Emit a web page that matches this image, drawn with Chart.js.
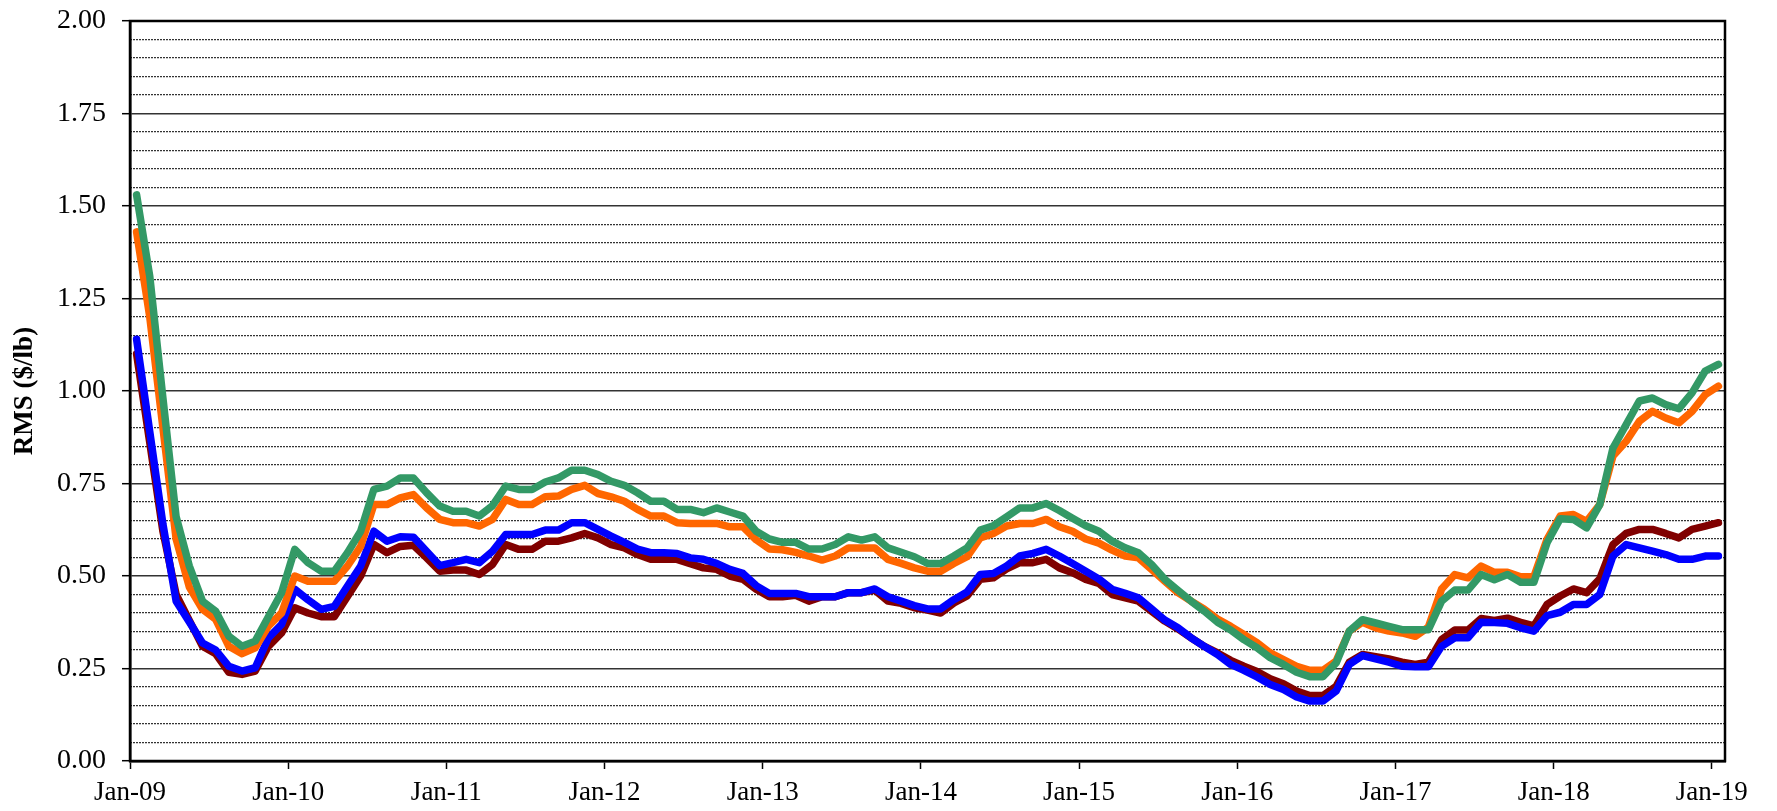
<!DOCTYPE html>
<html>
<head>
<meta charset="utf-8">
<script src="https://cdn.jsdelivr.net/npm/chart.js@4.4.1/dist/chart.umd.min.js"></script>
<style>
  html, body { margin: 0; padding: 0; background: #ffffff; }
  #wrap { width: 1777px; height: 811px; position: relative; }
</style>
</head>
<body>
<div id="wrap"><canvas id="c"></canvas></div>
<script>
// ---- Data (monthly, Jan-09 .. Jan-19) ----
const months = [];
(function () {
  const mn = ['Jan','Feb','Mar','Apr','May','Jun','Jul','Aug','Sep','Oct','Nov','Dec'];
  for (let y = 9; y <= 19; y++) {
    for (let m = 0; m < 12; m++) {
      if (y === 19 && m > 0) break;
      months.push(mn[m] + '-' + String(y).padStart(2, '0'));
    }
  }
})();

const tickLabels = ['Jan-09','Jan-10','Jan-11','Jan-12','Jan-13','Jan-14','Jan-15','Jan-16','Jan-17','Jan-18','Jan-19'];

const maroonSeries = [
  1.10,0.86,0.62,0.45,0.38,0.31,0.29,0.24,0.234,0.243,0.31,0.346,
  0.414,0.40,0.39,0.39,0.445,0.50,0.585,0.563,0.58,0.583,0.549,0.513,
  0.516,0.516,0.504,0.531,0.585,0.572,0.572,0.594,0.594,0.603,0.615,0.603,
  0.585,0.576,0.558,0.545,0.545,0.545,0.533,0.522,0.518,0.50,0.491,0.464,
  0.444,0.444,0.448,0.432,0.444,0.444,0.455,0.455,0.462,0.432,0.426,0.414,
  0.408,0.40,0.427,0.446,0.491,0.495,0.519,0.536,0.536,0.545,0.522,0.509,
  0.491,0.48,0.45,0.441,0.432,0.405,0.378,0.357,0.333,0.31,0.292,0.272,
  0.256,0.242,0.222,0.209,0.189,0.177,0.177,0.202,0.267,0.288,0.282,0.276,
  0.267,0.261,0.267,0.328,0.354,0.354,0.385,0.38,0.386,0.375,0.365,0.423,
  0.446,0.465,0.455,0.492,0.585,0.615,0.626,0.626,0.615,0.603,0.626,0.635,
  0.644
];

const orangeSeries = [
  1.43,1.20,0.90,0.60,0.47,0.41,0.383,0.31,0.29,0.306,0.365,0.40,
  0.50,0.486,0.486,0.486,0.527,0.58,0.693,0.693,0.711,0.72,0.684,0.653,
  0.644,0.644,0.635,0.653,0.707,0.693,0.693,0.714,0.716,0.734,0.745,0.723,
  0.714,0.702,0.68,0.662,0.662,0.644,0.642,0.642,0.642,0.633,0.633,0.598,
  0.573,0.571,0.564,0.554,0.543,0.554,0.576,0.576,0.576,0.545,0.534,0.522,
  0.513,0.513,0.534,0.552,0.603,0.615,0.635,0.642,0.642,0.653,0.633,0.621,
  0.60,0.589,0.57,0.554,0.549,0.518,0.486,0.455,0.432,0.41,0.384,0.364,
  0.342,0.32,0.292,0.274,0.256,0.245,0.245,0.27,0.351,0.375,0.36,0.351,
  0.346,0.337,0.362,0.465,0.504,0.495,0.527,0.51,0.51,0.498,0.498,0.599,
  0.662,0.666,0.648,0.693,0.824,0.864,0.918,0.945,0.927,0.914,0.945,0.99,
  1.013
];

const blueSeries = [
  1.14,0.89,0.64,0.432,0.376,0.319,0.30,0.256,0.243,0.252,0.333,0.369,
  0.464,0.436,0.41,0.418,0.473,0.527,0.621,0.594,0.606,0.605,0.567,0.528,
  0.536,0.545,0.536,0.567,0.612,0.612,0.612,0.624,0.624,0.644,0.644,0.626,
  0.608,0.591,0.573,0.563,0.563,0.561,0.549,0.545,0.534,0.518,0.507,0.474,
  0.453,0.453,0.453,0.444,0.444,0.444,0.455,0.455,0.465,0.444,0.432,0.42,
  0.411,0.411,0.436,0.457,0.504,0.507,0.527,0.554,0.561,0.572,0.554,0.534,
  0.513,0.492,0.464,0.453,0.441,0.411,0.381,0.36,0.333,0.31,0.288,0.261,
  0.245,0.227,0.207,0.193,0.173,0.162,0.162,0.189,0.261,0.285,0.276,0.267,
  0.256,0.255,0.255,0.31,0.333,0.333,0.375,0.374,0.372,0.36,0.351,0.393,
  0.402,0.423,0.423,0.45,0.554,0.585,0.576,0.567,0.558,0.545,0.545,0.554,
  0.554
];

const greenSeries = [
  1.53,1.31,0.98,0.66,0.527,0.432,0.405,0.337,0.31,0.324,0.39,0.455,
  0.572,0.536,0.513,0.513,0.563,0.621,0.734,0.743,0.765,0.765,0.725,0.689,
  0.675,0.675,0.662,0.69,0.743,0.734,0.734,0.754,0.765,0.786,0.786,0.774,
  0.756,0.745,0.725,0.702,0.702,0.68,0.68,0.671,0.684,0.673,0.662,0.621,
  0.60,0.591,0.591,0.573,0.573,0.585,0.606,0.597,0.606,0.576,0.564,0.552,
  0.534,0.534,0.554,0.576,0.624,0.636,0.66,0.684,0.684,0.696,0.677,0.656,
  0.636,0.621,0.594,0.576,0.563,0.531,0.491,0.461,0.432,0.405,0.375,0.354,
  0.328,0.306,0.279,0.261,0.24,0.228,0.228,0.265,0.351,0.382,0.373,0.364,
  0.355,0.355,0.355,0.432,0.462,0.462,0.504,0.49,0.504,0.483,0.483,0.59,
  0.655,0.653,0.63,0.693,0.846,0.909,0.973,0.981,0.963,0.952,0.995,1.054,
  1.072
];

// each month's value is plotted at the middle of its month on a month-count axis
function toPoints(vals) {
  return vals.map((v, i) => ({ x: i + 0.5, y: v }));
}

Chart.defaults.font.family = '"Liberation Serif", "Times New Roman", serif';
Chart.defaults.color = '#000000';

const frame = {
  id: 'frame',
  afterDatasetsDraw(chart) {
    const a = chart.chartArea, ctx = chart.ctx;
    ctx.save();
    ctx.strokeStyle = '#000000';
    ctx.lineWidth = 2.5;
    ctx.strokeRect(a.left, a.top, a.right - a.left, a.bottom - a.top);
    ctx.restore();
  }
};

function lineDs(label, vals, color, order) {
  return {
    label: label,
    data: toPoints(vals),
    borderColor: color,
    backgroundColor: color,
    borderWidth: 7.5,
    pointRadius: 0,
    tension: 0,
    fill: false,
    borderJoinStyle: 'round',
    borderCapStyle: 'round',
    order: order
  };
}

new Chart(document.getElementById('c'), {
  type: 'line',
  data: {
    datasets: [
      lineDs('Series 1', maroonSeries, '#800000', 3),
      lineDs('Series 2', orangeSeries, '#FF6600', 1),
      lineDs('Series 3', blueSeries, '#0000FF', 2),
      lineDs('Series 4', greenSeries, '#339966', 0)
    ]
  },
  options: {
    responsive: true,
    maintainAspectRatio: false,
    animation: false,
    layout: { padding: { left: 0, top: 21, right: 52, bottom: 0 } },
    plugins: { legend: { display: false }, tooltip: { enabled: false } },
    scales: {
      x: {
        type: 'linear',
        min: 0,
        max: months.length,
        afterBuildTicks(scale) {
          scale.ticks = tickLabels.map((t, k) => ({ value: k * 12 }));
        },
        afterFit(scale) { scale.height = 50; },
        ticks: {
          autoSkip: false,
          maxRotation: 0,
          padding: 8,
          font: { size: 27 },
          callback: (v) => tickLabels[Math.round(v / 12)]
        },
        grid: { drawOnChartArea: false, drawTicks: true, tickLength: 8, tickColor: '#000000', tickWidth: 1.5 },
        border: { display: true, color: '#000000', width: 2.5 }
      },
      yMinor: {
        type: 'linear',
        position: 'left',
        min: 0,
        max: 2,
        afterFit(scale) { scale.width = 0; },
        ticks: { display: false, stepSize: 0.05 },
        grid: {
          drawTicks: false,
          lineWidth: 1.2,
          color: (ctx) => {
            const v = ctx.tick ? ctx.tick.value : 0;
            const r = Math.abs(v / 0.25 - Math.round(v / 0.25));
            return r < 0.01 ? 'rgba(0,0,0,0)' : '#333333';
          }
        },
        border: { display: false, dash: [2, 1] }
      },
      y: {
        type: 'linear',
        position: 'left',
        min: 0,
        max: 2,
        afterFit(scale) {
          scale.width = 130;
          scale.paddingTop = 0;
          scale.paddingBottom = 0;
        },
        ticks: {
          stepSize: 0.25,
          padding: 16,
          font: { size: 28 },
          callback: (v) => Number(v).toFixed(2)
        },
        grid: { drawOnChartArea: true, color: '#333333', lineWidth: 1.4, tickLength: 8, tickColor: '#000000', tickWidth: 1.5 },
        border: { display: true, color: '#000000', width: 2.5 },
        title: {
          display: true,
          text: 'RMS ($/lb)',
          font: { size: 27, weight: 'bold' },
          padding: { top: 9, bottom: 0 }
        }
      }
    }
  },
  plugins: [frame]
});
</script>
</body>
</html>
